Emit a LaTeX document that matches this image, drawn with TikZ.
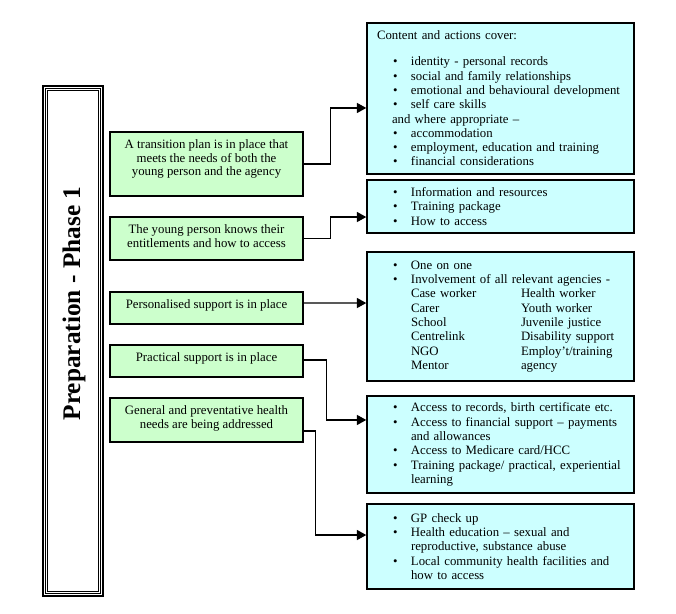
\documentclass[tikz,border=0pt]{standalone}
\usepackage{fontspec}
\setmainfont{Liberation Serif}
\usepackage{tikz}
\usetikzlibrary{arrows.meta,positioning}
\usepackage{xcolor}
\definecolor{phgreen}{RGB}{204,255,204}
\definecolor{phcyan}{RGB}{204,255,255}
\tikzstyle{arrow} = [line width=0.9pt,-{Triangle[length=7pt,width=7.5pt]},color=black]
\tikzstyle{goalbox} = [rectangle, draw=black, fill=phgreen, line width=1.1pt, inner sep=0pt]
\tikzstyle{listbox} = [rectangle, draw=black, fill=phcyan, line width=1.1pt, text width=185.25pt, inner xsep=7.5pt, minimum width=200.25pt, align=left, font=\fontsize{9.6}{10.7}\selectfont]
\tikzstyle{titlebox} = [rectangle, draw=black, line width=1.5pt, minimum width=45pt, minimum height=382.5pt, inner sep=0pt]
\newcommand{\goal}[2]{\parbox[c][#1][t]{144.75pt}{\centering\fontsize{9.6}{10.1}\selectfont\rule{0pt}{12.4pt}#2}}
\newcommand{\bul}{\hspace*{12pt}\makebox[13.5pt][l]{\textbullet}}
\newcommand{\ind}{\hspace*{25.5pt}}
\newcommand{\twocol}[2]{\ind\makebox[82.5pt][l]{#1}#2}

\begin{document}
\begin{tikzpicture}[x=0.75pt,y=-0.75pt]
\useasboundingbox (0,0) rectangle (676,614);

% Phase title
\node[titlebox] (title) at (73,341) {};
\draw[line width=0.75pt] ([shift={(3.2,3.2)}]title.north west) rectangle ([shift={(-3.2,-3.2)}]title.south east);
\draw[line width=0.75pt] ([shift={(5.4,5.4)}]title.north west) rectangle ([shift={(-5.4,-5.4)}]title.south east);
\node[rotate=90, font=\fontsize{19}{22}\selectfont\bfseries] (phase) at (74,303.5) {Preparation - Phase 1};

% Outcomes
\node[goalbox] (g1) at (206.5,164) {\goal{48pt}{A transition plan is in place that\\meets the needs of both the\\young person and the agency}};
\node[goalbox] (g2) at (206.5,238.5) {\goal{32.25pt}{The young person knows their\\entitlements and how to access}};
\node[goalbox] (g3) at (206.5,308) {\goal{24pt}{Personalised support is in place}};
\node[goalbox] (g4) at (206.5,361) {\goal{24pt}{Practical support is in place}};
\node[goalbox] (g5) at (206.5,420) {\goal{33pt}{General and preventative health\\needs are being addressed}};

% Content and actions
\node[listbox, minimum height=113.25pt] (cA) at (500.5,98.5) {Content and actions cover:\\[8.8pt]
\bul identity - personal records\\
\bul social and family relationships\\
\bul emotional and behavioural development\\
\bul self care skills\\
\hspace*{11.25pt}and where appropriate –\\
\bul accommodation\\
\bul employment, education and training\\
\bul financial considerations};
\node[listbox, minimum height=39.75pt] (cB) at (500.5,206.5) {\bul Information and resources\\
\bul Training package\\
\bul How to access};
\node[listbox, minimum height=96.75pt] (cC) at (500.5,316.5) {\bul One on one\\
\bul Involvement of all relevant agencies -\\
\twocol{Case worker}{Health worker}\\
\twocol{Carer}{Youth worker}\\
\twocol{School}{Juvenile justice}\\
\twocol{Centrelink}{Disability support}\\
\twocol{NGO}{Employ’t/training}\\
\twocol{Mentor}{agency}};
\node[listbox, minimum height=72.75pt] (cD) at (500.5,444.5) {\bul Access to records, birth certificate etc.\\
\bul Access to financial support – payments\\
\ind and allowances\\
\bul Access to Medicare card/HCC\\
\bul Training package/ practical, experiential\\
\ind learning};
\node[listbox, minimum height=63.75pt] (cE) at (500.5,546.5) {\bul GP check up\\
\bul Health education – sexual and\\
\ind reproductive, substance abuse\\
\bul Local community health facilities and\\
\ind how to access};

% Arrows
\draw[arrow] (g1.east) -- ++(27,0) |- ([yshift=-7.1pt]cA.west);
\draw[arrow] (g2.east) -- ++(27,0) |- ([yshift=-7.9pt]cB.west);
\draw[arrow] ([yshift=3.75pt]g3.east) -- ([yshift=10.1pt]cC.west);
\draw[arrow] ([yshift=0.75pt]g4.east) -- ++(23,0) |- ([yshift=18.4pt]cD.west);
\draw[arrow] ([yshift=-8.25pt]g5.east) -- ++(12,0) |- ([yshift=8.6pt]cE.west);
\end{tikzpicture}
\end{document}
